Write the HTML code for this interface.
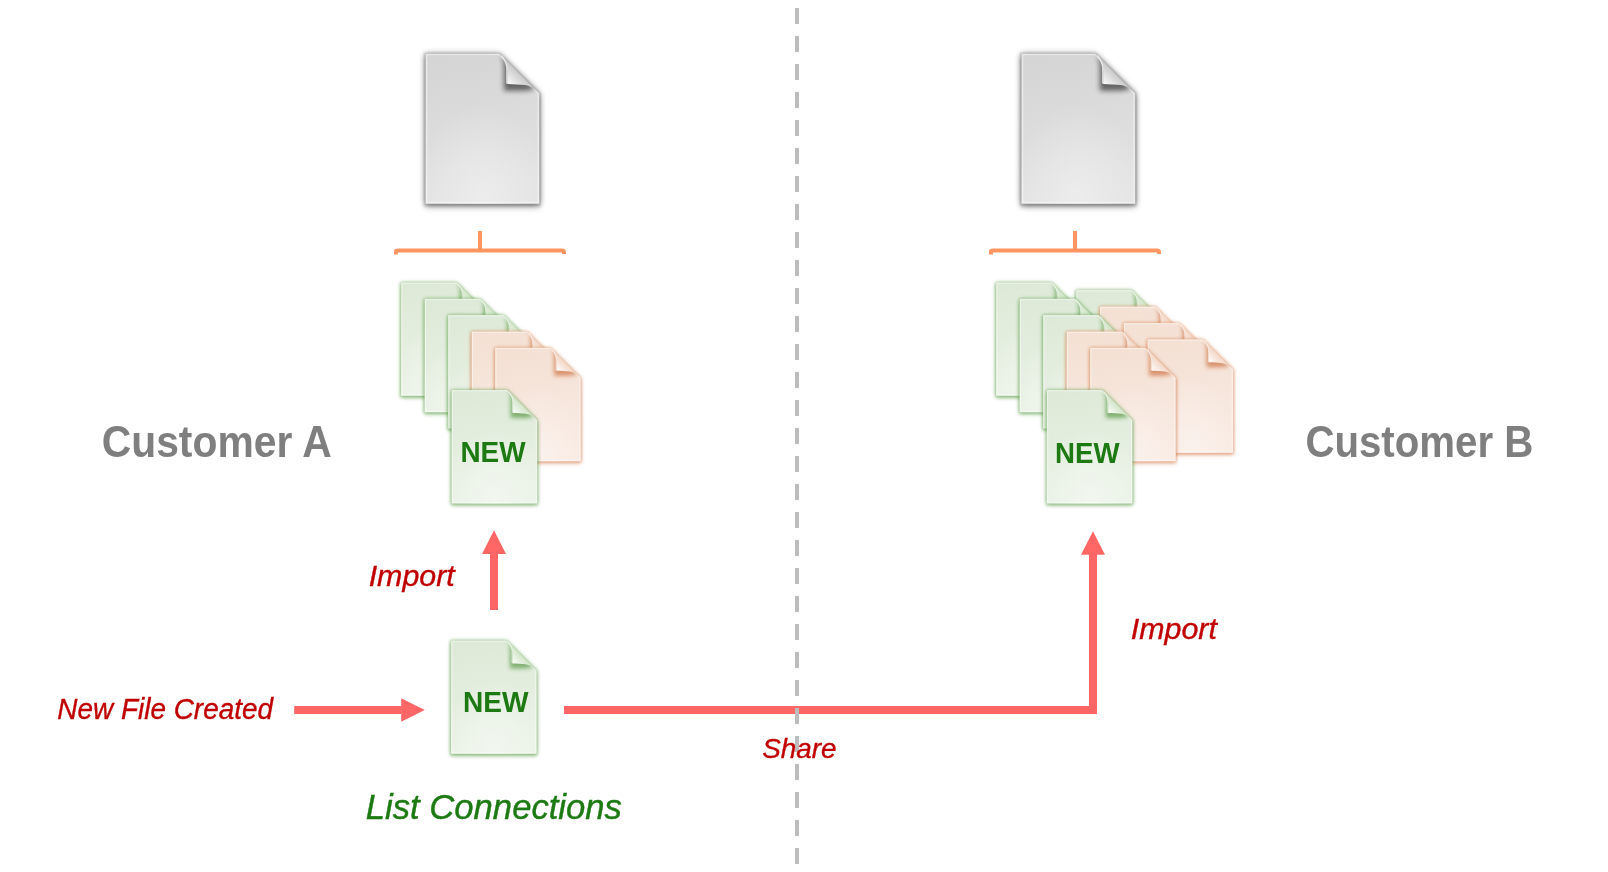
<!DOCTYPE html>
<html><head><meta charset="utf-8"><title>Customer file sharing diagram</title>
<style>
html,body{margin:0;padding:0;background:#ffffff;width:1608px;height:872px;overflow:hidden}
svg{display:block;font-family:"Liberation Sans",sans-serif}
</style></head><body>
<svg width="1608" height="872" viewBox="0 0 1608 872">
<defs>
<filter id="blurW" x="-30%" y="-30%" width="160%" height="160%"><feGaussianBlur stdDeviation="2.3"/></filter>
<filter id="blurN" x="-20%" y="-20%" width="140%" height="140%"><feGaussianBlur stdDeviation="0.9"/></filter>
<filter id="blurF" x="-60%" y="-60%" width="220%" height="220%"><feGaussianBlur stdDeviation="2.1"/></filter>
<filter id="noop" x="0" y="0" width="1608" height="872" filterUnits="userSpaceOnUse"><feOffset dx="0" dy="0"/></filter>
<clipPath id="pageclip"><path d="M0,0 H55.6 L85.6,30.0 V113.4 H0 Z"/></clipPath>

<linearGradient id="g_gray" x1="0" y1="0" x2="0.15" y2="1">
  <stop offset="0" stop-color="#d4d4d4"/><stop offset="1" stop-color="#e3e3e3"/>
</linearGradient>
<radialGradient id="r_gray" cx="0.5" cy="0.95" r="0.6" fx="0.5" fy="0.95">
  <stop offset="0" stop-color="#ededed" stop-opacity="0.9"/><stop offset="1" stop-color="#ededed" stop-opacity="0"/>
</radialGradient>
<linearGradient id="f_gray" gradientUnits="userSpaceOnUse" x1="61" y1="23" x2="69.5" y2="14.5">
  <stop offset="0.05" stop-color="#fafafa"/><stop offset="1" stop-color="#cbcbcb"/>
</linearGradient>
<symbol id="p_gray" overflow="visible">
  <path d="M0,0 H55.6 L85.6,30.0 V113.4 H0 Z" fill="#202020" opacity="0.372" filter="url(#blurW)"/>
  <path d="M0,0 H55.6 L85.6,30.0 V113.4 H0 Z" fill="#202020" opacity="0.372" filter="url(#blurW)" transform="translate(0,2.2)"/>
  <path d="M0,0 H55.6 L85.6,30.0 V113.4 H0 Z" fill="#202020" stroke="#202020" stroke-width="2.4" opacity="0.19" filter="url(#blurN)" transform="translate(0,0.7)"/>
  <path d="M0,0 H55.6 L85.6,30.0 V113.4 H0 Z" fill="url(#g_gray)"/>
  <path d="M0,0 H55.6 L85.6,30.0 V113.4 H0 Z" fill="url(#r_gray)"/>
  <path d="M0.9,0.9 H55.20 L84.70,30.40 V112.50 H0.9 Z" fill="none" stroke="#ffffff" stroke-opacity="0.45" stroke-width="1"/>
  <g clip-path="url(#pageclip)">
    <path d="M56.6,0.8 C58,3.5 59,6.5 59,10 L59,28 L74,28 C77,27.8 80,27 82.5,26.5 Z" fill="#1a1a1a" opacity="0.62" filter="url(#blurF)"/>
  </g>
  <path d="M56.2,0.5 C58.5,3 60.5,6.5 61.2,10 L61.5,13.2 L61.5,23 C66,23.2 71,23.5 74.7,23.8 C77.5,24.2 80,25.4 81.8,26.6 Z" fill="url(#f_gray)"/>
  <path d="M57,1.6 C59.2,4 60.6,7 61,10 L61.1,13.2 L61.1,22.6" stroke="#ffffff" stroke-opacity="0.7" stroke-width="1" fill="none"/>
</symbol>
<linearGradient id="g_green" x1="0" y1="0" x2="0.15" y2="1">
  <stop offset="0" stop-color="#dde9d7"/><stop offset="1" stop-color="#eaf2e6"/>
</linearGradient>
<radialGradient id="r_green" cx="0.5" cy="0.95" r="0.6" fx="0.5" fy="0.95">
  <stop offset="0" stop-color="#f2f7f0" stop-opacity="0.9"/><stop offset="1" stop-color="#f2f7f0" stop-opacity="0"/>
</radialGradient>
<linearGradient id="f_green" gradientUnits="userSpaceOnUse" x1="61" y1="23" x2="69.5" y2="14.5">
  <stop offset="0.05" stop-color="#fbfdfa"/><stop offset="1" stop-color="#d3e6ca"/>
</linearGradient>
<symbol id="p_green" overflow="visible">
  <path d="M0,0 H55.6 L85.6,30.0 V113.4 H0 Z" fill="#3e8a26" opacity="0.372" filter="url(#blurW)"/>
  <path d="M0,0 H55.6 L85.6,30.0 V113.4 H0 Z" fill="#3e8a26" opacity="0.372" filter="url(#blurW)" transform="translate(0,2.2)"/>
  <path d="M0,0 H55.6 L85.6,30.0 V113.4 H0 Z" fill="#3e8a26" stroke="#3e8a26" stroke-width="2.4" opacity="0.19" filter="url(#blurN)" transform="translate(0,0.7)"/>
  <path d="M0,0 H55.6 L85.6,30.0 V113.4 H0 Z" fill="url(#g_green)"/>
  <path d="M0,0 H55.6 L85.6,30.0 V113.4 H0 Z" fill="url(#r_green)"/>
  <path d="M0.9,0.9 H55.20 L84.70,30.40 V112.50 H0.9 Z" fill="none" stroke="#ffffff" stroke-opacity="0.45" stroke-width="1"/>
  <g clip-path="url(#pageclip)">
    <path d="M56.6,0.8 C58,3.5 59,6.5 59,10 L59,28 L74,28 C77,27.8 80,27 82.5,26.5 Z" fill="#3f8a2a" opacity="0.6" filter="url(#blurF)"/>
  </g>
  <path d="M56.2,0.5 C58.5,3 60.5,6.5 61.2,10 L61.5,13.2 L61.5,23 C66,23.2 71,23.5 74.7,23.8 C77.5,24.2 80,25.4 81.8,26.6 Z" fill="url(#f_green)"/>
  <path d="M57,1.6 C59.2,4 60.6,7 61,10 L61.1,13.2 L61.1,22.6" stroke="#ffffff" stroke-opacity="0.7" stroke-width="1" fill="none"/>
</symbol>
<linearGradient id="g_orange" x1="0" y1="0" x2="0.15" y2="1">
  <stop offset="0" stop-color="#f4e0d3"/><stop offset="1" stop-color="#f8eae2"/>
</linearGradient>
<radialGradient id="r_orange" cx="0.5" cy="0.95" r="0.6" fx="0.5" fy="0.95">
  <stop offset="0" stop-color="#fbf2ed" stop-opacity="0.9"/><stop offset="1" stop-color="#fbf2ed" stop-opacity="0"/>
</radialGradient>
<linearGradient id="f_orange" gradientUnits="userSpaceOnUse" x1="61" y1="23" x2="69.5" y2="14.5">
  <stop offset="0.05" stop-color="#fffcfa"/><stop offset="1" stop-color="#f2d8c8"/>
</linearGradient>
<symbol id="p_orange" overflow="visible">
  <path d="M0,0 H55.6 L85.6,30.0 V113.4 H0 Z" fill="#cf6a30" opacity="0.372" filter="url(#blurW)"/>
  <path d="M0,0 H55.6 L85.6,30.0 V113.4 H0 Z" fill="#cf6a30" opacity="0.372" filter="url(#blurW)" transform="translate(0,2.2)"/>
  <path d="M0,0 H55.6 L85.6,30.0 V113.4 H0 Z" fill="#cf6a30" stroke="#cf6a30" stroke-width="2.4" opacity="0.19" filter="url(#blurN)" transform="translate(0,0.7)"/>
  <path d="M0,0 H55.6 L85.6,30.0 V113.4 H0 Z" fill="url(#g_orange)"/>
  <path d="M0,0 H55.6 L85.6,30.0 V113.4 H0 Z" fill="url(#r_orange)"/>
  <path d="M0.9,0.9 H55.20 L84.70,30.40 V112.50 H0.9 Z" fill="none" stroke="#ffffff" stroke-opacity="0.45" stroke-width="1"/>
  <g clip-path="url(#pageclip)">
    <path d="M56.6,0.8 C58,3.5 59,6.5 59,10 L59,28 L74,28 C77,27.8 80,27 82.5,26.5 Z" fill="#c8622a" opacity="0.62" filter="url(#blurF)"/>
  </g>
  <path d="M56.2,0.5 C58.5,3 60.5,6.5 61.2,10 L61.5,13.2 L61.5,23 C66,23.2 71,23.5 74.7,23.8 C77.5,24.2 80,25.4 81.8,26.6 Z" fill="url(#f_orange)"/>
  <path d="M57,1.6 C59.2,4 60.6,7 61,10 L61.1,13.2 L61.1,22.6" stroke="#ffffff" stroke-opacity="0.7" stroke-width="1" fill="none"/>
</symbol>
</defs>
<line x1="797" y1="8" x2="797" y2="872" stroke="#bdbdbd" stroke-width="4" stroke-dasharray="16 12"/>
<use href="#p_gray" transform="translate(425.5,53.5) scale(1.33,1.326)"/>
<use href="#p_gray" transform="translate(1021.4,53.5) scale(1.33,1.326)"/>
<path d="M396,254.6 V251 Q396,250.5 398,250.5 H562 Q564,250.5 564,252 V254" fill="none" stroke="#ff9662" stroke-width="4"/><line x1="480" y1="231" x2="480" y2="250.5" stroke="#ff9662" stroke-width="4"/>
<path d="M991,254.6 V251 Q991,250.5 993,250.5 H1157 Q1159,250.5 1159,252 V254" fill="none" stroke="#ff9662" stroke-width="4"/><line x1="1075" y1="231" x2="1075" y2="250.5" stroke="#ff9662" stroke-width="4"/>
<use href="#p_green" transform="translate(401.10,282.40)"/>
<use href="#p_green" transform="translate(424.60,298.75)"/>
<use href="#p_green" transform="translate(448.10,315.10)"/>
<use href="#p_orange" transform="translate(471.60,331.45)"/>
<use href="#p_orange" transform="translate(495.10,347.80)"/>
<use href="#p_green" transform="translate(451.60,390.00)"/>
<use href="#p_green" transform="translate(1076.10,290.00)"/>
<use href="#p_orange" transform="translate(1099.90,306.45)"/>
<use href="#p_orange" transform="translate(1123.70,322.90)"/>
<use href="#p_orange" transform="translate(1147.50,339.35)"/>
<use href="#p_green" transform="translate(996.10,282.40)"/>
<use href="#p_green" transform="translate(1019.60,298.75)"/>
<use href="#p_green" transform="translate(1043.10,315.10)"/>
<use href="#p_orange" transform="translate(1066.60,331.45)"/>
<use href="#p_orange" transform="translate(1090.10,347.80)"/>
<use href="#p_green" transform="translate(1046.80,390.00)"/>
<use href="#p_green" transform="translate(451.00,640.40)"/>
<rect x="490" y="553.5" width="8" height="56.5" fill="#ff6666"/><path d="M482,554 L494,530.3 L506,554 Z" fill="#ff6666"/>
<rect x="294.2" y="706" width="107.5" height="8" fill="#ff6666"/><path d="M401.2,698.2 L424.8,710 L401.2,721.8 Z" fill="#ff6666"/>
<path d="M564,706 H1089 V554 H1097 V714 H564 Z" fill="#ff6666"/><path d="M1081,554.7 L1093,531.2 L1105,554.7 Z" fill="#ff6666"/>
<line x1="797" y1="680" x2="797" y2="740" stroke="#bdbdbd" stroke-width="4" stroke-dasharray="16 12" stroke-dashoffset="-0"/>
<g filter="url(#noop)">
<text transform="translate(101.67,457.1) scale(0.904,1)" font-size="45.2" font-weight="bold" font-style="normal" fill="#7f7f7f">Customer A</text>
<text transform="translate(1305.39,457.1) scale(0.89,1)" font-size="45.2" font-weight="bold" font-style="normal" fill="#7f7f7f">Customer B</text>
<text transform="translate(460.44,461.7) scale(0.97,1)" font-size="28.8" font-weight="bold" font-style="normal" fill="#1d7a13">NEW</text>
<text transform="translate(1055.06,462.7) scale(0.96,1)" font-size="28.8" font-weight="bold" font-style="normal" fill="#1d7a13">NEW</text>
<text transform="translate(463.03,711.7) scale(0.975,1)" font-size="28.8" font-weight="bold" font-style="normal" fill="#1d7a13">NEW</text>
<text transform="translate(368.68,585.8) scale(1.055,1)" font-size="28.8" font-weight="normal" font-style="italic" fill="#c00000" stroke="#c00000" stroke-width="0.35">Import</text>
<text transform="translate(1130.78,638.9) scale(1.055,1)" font-size="28.8" font-weight="normal" font-style="italic" fill="#c00000" stroke="#c00000" stroke-width="0.35">Import</text>
<text transform="translate(57.36,718.6) scale(0.966,1)" font-size="28.9" font-weight="normal" font-style="italic" fill="#c00000" stroke="#c00000" stroke-width="0.35">New File Created</text>
<text transform="translate(762.16,757.6) scale(0.978,1)" font-size="28.5" font-weight="normal" font-style="italic" fill="#c00000" stroke="#c00000" stroke-width="0.35">Share</text>
<text transform="translate(365.76,819.0) scale(0.982,1)" font-size="35.3" font-weight="normal" font-style="italic" fill="#1d7a13" stroke="#1d7a13" stroke-width="0.4">List Connections</text>
</g>
</svg>
</body></html>
